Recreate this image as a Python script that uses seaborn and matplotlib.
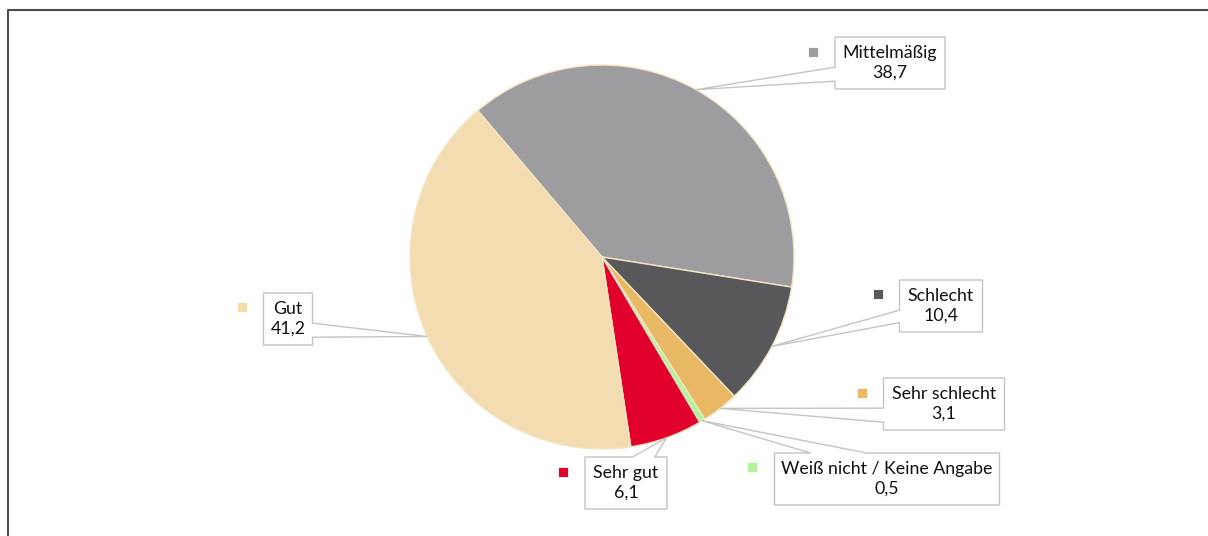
import matplotlib.pyplot as plt
import numpy as np
import seaborn as sns
from matplotlib.patches import Polygon

# Daten (im Uhrzeigersinn ab dem Übergang Gut/Mittelmäßig)
categories = ["Mittelmäßig", "Schlecht", "Sehr schlecht", "Weiß nicht / Keine Angabe", "Sehr gut", "Gut"]
values = [38.7, 10.4, 3.1, 0.5, 6.1, 41.2]
colors = ["#9d9d9f", "#58585a", "#e8b865", "#b0f59a", "#e2002d", "#f2dcb0"]

# Layout der Beschriftungen in Pixeln (Mitte x, Mitte y von oben, Breite, Seite, Anteile, Marker)
label_layout = {
    "Mittelmäßig": (890, 63, 110, "left", (0.58, 0.85), (813, 52)),
    "Schlecht": (941, 306, 83, "left", (0.58, 0.82), (878, 294)),
    "Sehr schlecht": (944, 404, 121, "left", (0.58, 0.85), (862, 393)),
    "Weiß nicht / Keine Angabe": (887, 479, 225, "top", (0.16, 0.41), (752, 467)),
    "Sehr gut": (626, 483, 82, "top", (0.58, 0.85), (563, 472)),
    "Gut": (288, 319, 49, "right", (0.58, 0.85), (242, 307)),
}

W, H = 1208, 536
BOX_H = 52
CENTER = (602, H - 257)
RADIUS = 192

sns.set_theme(style="white")
plt.rcParams["font.family"] = ["Lato", "DejaVu Sans"]

fig = plt.figure(figsize=(W / 100, H / 100), dpi=100)
ax = fig.add_axes([0, 0, 1, 1])
ax.axis("off")

wedges, _ = ax.pie(values, colors=colors, startangle=130.3, counterclock=False,
                   center=CENTER, radius=RADIUS,
                   wedgeprops=dict(edgecolor="#f3e4c4", linewidth=1.0))
ax.set_xlim(0, W)
ax.set_ylim(0, H)
ax.set_aspect("equal")


def callout_polygon(cx, cy, w, side, fracs, anchor):
    x0, x1 = cx - w / 2, cx + w / 2
    y1 = H - (cy - BOX_H / 2)
    y0 = y1 - BOX_H
    f1, f2 = fracs
    if side == "left":
        pts = [(x0, y1), (x0, y1 - f1 * BOX_H), anchor, (x0, y1 - f2 * BOX_H),
               (x0, y0), (x1, y0), (x1, y1)]
    elif side == "right":
        pts = [(x1, y1), (x1, y1 - f1 * BOX_H), anchor, (x1, y1 - f2 * BOX_H),
               (x1, y0), (x0, y0), (x0, y1)]
    else:
        pts = [(x0, y1), (x0 + f1 * w, y1), anchor, (x0 + f2 * w, y1),
               (x1, y1), (x1, y0), (x0, y0)]
    return pts


for wedge, name, val, col in zip(wedges, categories, values, colors):
    cx, cy, w, side, fracs, marker = label_layout[name]
    mid = np.deg2rad((wedge.theta1 + wedge.theta2) / 2)
    anchor = (CENTER[0] + RADIUS * np.cos(mid), CENTER[1] + RADIUS * np.sin(mid))
    poly = Polygon(callout_polygon(cx, cy, w, side, fracs, anchor), closed=True,
                   facecolor="white", edgecolor="#c4c4c4", linewidth=1.0, zorder=3)
    ax.add_patch(poly)
    ax.text(cx, H - cy, f"{name}\n{val:.1f}".replace(".", ","), ha="center", va="center",
            fontsize=12.8, color="#111111", linespacing=1.3, zorder=4)
    ax.scatter([marker[0]], [H - marker[1]], marker="s", s=45, color=col,
               edgecolor="white", linewidth=0.6, zorder=4)

# Rahmen
ax.plot([8, 8, W], [0, H - 10, H - 10], color="#4d4d4d", linewidth=1.5, clip_on=False)

fig.savefig("out.png", dpi=100)
